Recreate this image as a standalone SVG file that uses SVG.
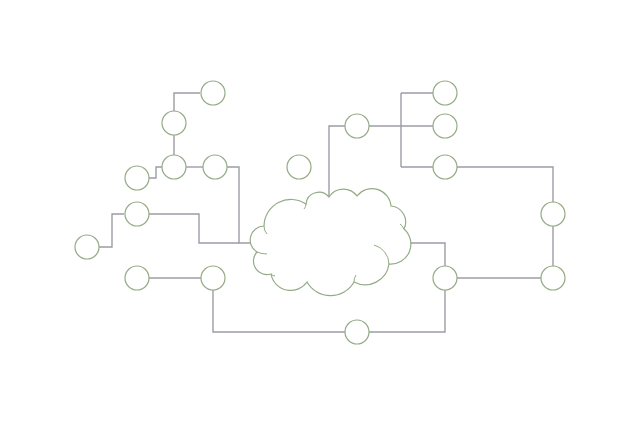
<svg xmlns="http://www.w3.org/2000/svg" width="640" height="426" viewBox="0 0 640 426">
<style>
.n{fill:#ffffff;stroke:#94ab86;stroke-width:1.2}
.c{fill:none;stroke:#9c9ca6;stroke-width:1.4}
.cl{fill:#ffffff;stroke:#94ab86;stroke-width:1.2}
.curl{fill:none;stroke:#94ab86;stroke-width:1}
</style>
<rect width="640" height="426" fill="#ffffff"/>
<g id="connectors">
<path class="c" d="M200,93 H174 V111"/>
<path class="c" d="M174,135 V155"/>
<path class="c" d="M186,167 H203"/>
<path class="c" d="M227,167 H239 V243 H250"/>
<path class="c" d="M149,178 H156 V167 H162"/>
<path class="c" d="M149,214 H199 V243 H239"/>
<path class="c" d="M99,247 H112 V214 H124"/>
<path class="c" d="M149,278 H201"/>
<path class="c" d="M213,290 V332 H345"/>
<path class="c" d="M369,332 H445 V290"/>
<path class="c" d="M329,198 V126 H345"/>
<path class="c" d="M369,126 H433"/>
<path class="c" d="M401,93 V167 M401,93 H433 M401,167 H433"/>
<path class="c" d="M457,167 H553 V202"/>
<path class="c" d="M553,226 V266"/>
<path class="c" d="M457,278 H541"/>
<path class="c" d="M409,243 H445 V266"/>
</g>
<g id="cloud">
<path class="cl" d="M257,252 A14,14 0 0 1 264,226 A27,27 0 0 1 306,204 A13,13 0 0 1 329,197 A17,17 0 0 1 357,196 A19,19 0 0 1 391,206 A16,16 0 0 1 404,229 A20,20 0 0 1 389,264 A24,24 0 0 1 354,282 A27,27 0 0 1 307,282 A20,20 0 0 1 271,274 A13.5,13.5 0 0 1 257,252 Z"/>
<path class="curl" d="M264,226 Q264,231 267,234"/>
<path class="curl" d="M306,204 Q306,207 304,209"/>
<path class="curl" d="M389,264 A20,20 0 0 0 374,245"/>
<path class="curl" d="M354,282 Q354,278 356,275"/>
<path class="curl" d="M257,252 Q262,254 267,254"/>
<path class="curl" d="M271,274 Q273,276 275,276"/>
<path class="curl" d="M404,229 Q402,225 400,224"/>
</g>
<g id="n1"><circle class="n" cx="213" cy="93" r="12"/></g>
<g id="n2"><circle class="n" cx="174" cy="123" r="12"/></g>
<g id="n3"><circle class="n" cx="174" cy="167" r="12"/></g>
<g id="n4"><circle class="n" cx="215" cy="167" r="12"/></g>
<g id="n5"><circle class="n" cx="137" cy="178" r="12"/></g>
<g id="n6"><circle class="n" cx="137" cy="214" r="12"/></g>
<g id="n7"><circle class="n" cx="87" cy="247" r="12"/></g>
<g id="n8"><circle class="n" cx="137" cy="278" r="12"/></g>
<g id="n9"><circle class="n" cx="213" cy="278" r="12"/></g>
<g id="n10"><circle class="n" cx="357" cy="332" r="12"/></g>
<g id="n11"><circle class="n" cx="357" cy="126" r="12"/></g>
<g id="n12"><circle class="n" cx="299" cy="167" r="12"/></g>
<g id="n13"><circle class="n" cx="445" cy="93" r="12"/></g>
<g id="n14"><circle class="n" cx="445" cy="126" r="12"/></g>
<g id="n15"><circle class="n" cx="445" cy="167" r="12"/></g>
<g id="n16"><circle class="n" cx="553" cy="214" r="12"/></g>
<g id="n17"><circle class="n" cx="553" cy="278" r="12"/></g>
<g id="n18"><circle class="n" cx="445" cy="278" r="12"/></g>
</svg>
